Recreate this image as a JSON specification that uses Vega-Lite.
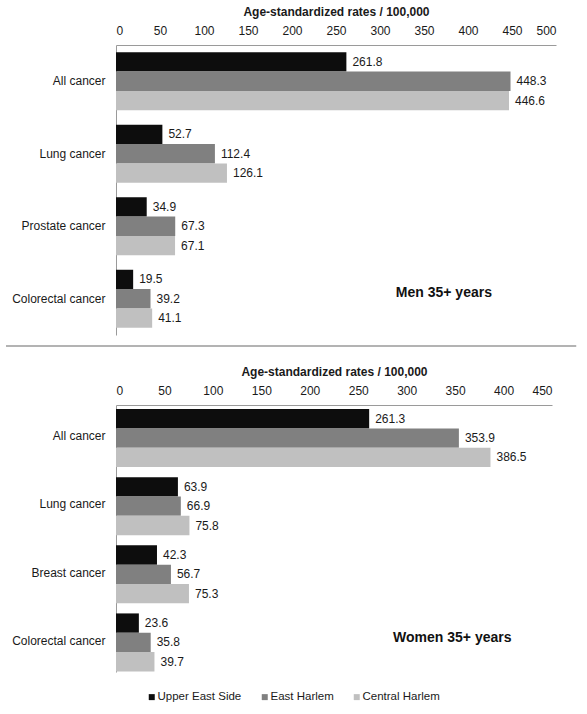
{
  "$schema": "https://vega.github.io/schema/vega-lite/v6.json",
  "background": "white",
  "padding": {"left": 5, "top": 5, "right": 5, "bottom": 5},
  "spacing": 10,
  "datasets": {
    "men": [
      {"cancer": "All cancer", "area": "Upper East Side", "rate": 261.8},
      {"cancer": "All cancer", "area": "East Harlem", "rate": 448.3},
      {"cancer": "All cancer", "area": "Central Harlem", "rate": 446.6},
      {"cancer": "Lung cancer", "area": "Upper East Side", "rate": 52.7},
      {"cancer": "Lung cancer", "area": "East Harlem", "rate": 112.4},
      {"cancer": "Lung cancer", "area": "Central Harlem", "rate": 126.1},
      {"cancer": "Prostate cancer", "area": "Upper East Side", "rate": 34.9},
      {"cancer": "Prostate cancer", "area": "East Harlem", "rate": 67.3},
      {"cancer": "Prostate cancer", "area": "Central Harlem", "rate": 67.1},
      {"cancer": "Colorectal cancer", "area": "Upper East Side", "rate": 19.5},
      {"cancer": "Colorectal cancer", "area": "East Harlem", "rate": 39.2},
      {"cancer": "Colorectal cancer", "area": "Central Harlem", "rate": 41.1}
    ],
    "women": [
      {"cancer": "All cancer", "area": "Upper East Side", "rate": 261.3},
      {"cancer": "All cancer", "area": "East Harlem", "rate": 353.9},
      {"cancer": "All cancer", "area": "Central Harlem", "rate": 386.5},
      {"cancer": "Lung cancer", "area": "Upper East Side", "rate": 63.9},
      {"cancer": "Lung cancer", "area": "East Harlem", "rate": 66.9},
      {"cancer": "Lung cancer", "area": "Central Harlem", "rate": 75.8},
      {"cancer": "Breast cancer", "area": "Upper East Side", "rate": 42.3},
      {"cancer": "Breast cancer", "area": "East Harlem", "rate": 56.7},
      {"cancer": "Breast cancer", "area": "Central Harlem", "rate": 75.3},
      {"cancer": "Colorectal cancer", "area": "Upper East Side", "rate": 23.6},
      {"cancer": "Colorectal cancer", "area": "East Harlem", "rate": 35.8},
      {"cancer": "Colorectal cancer", "area": "Central Harlem", "rate": 39.7}
    ],
    "panels": [
      {"label": "Men 35+ years", "cancer": "Colorectal cancer"}
    ],
    "panelsW": [
      {"label": "Women 35+ years", "cancer": "Colorectal cancer"}
    ],
    "sep": [{"from": -125, "to": 523, "level": 1}]
  },
  "config": {
    "font": "Liberation Sans",
    "view": {"stroke": null},
    "axis": {
      "labelFont": "Liberation Sans",
      "titleFont": "Liberation Sans",
      "labelFontSize": 12,
      "labelColor": "#1a1a1a",
      "titleColor": "#1a1a1a",
      "grid": false,
      "ticks": false,
      "domainColor": "#9a9a9a"
    },
    "legend": {
      "labelFont": "Liberation Sans",
      "labelFontSize": 11.5,
      "labelColor": "#1a1a1a"
    }
  },
  "vconcat": [
    {
      "width": 440,
      "height": 290,
      "data": {"name": "men"},
      "encoding": {
        "y": {
          "field": "cancer", "type": "nominal",
          "scale": {"domain": ["All cancer", "Lung cancer", "Prostate cancer", "Colorectal cancer"], "paddingInner": 0.2, "paddingOuter": 0.1},
          "axis": {"title": null, "labelPadding": 11}
        }
      },
      "layer": [
        {
          "mark": {"type": "bar"},
          "encoding": {
            "yOffset": {
              "field": "area", "type": "nominal",
              "scale": {"domain": ["Upper East Side", "East Harlem", "Central Harlem"]}
            },
            "x": {
              "field": "rate", "type": "quantitative",
              "scale": {"domain": [0, 500]},
              "axis": {
                "orient": "top", "values": [0, 50, 100, 150, 200, 250, 300, 350, 400, 450, 500],
                "title": "Age-standardized  rates / 100,000",
                "titleFontSize": 12, "titleFontWeight": "bold",
                "labelPadding": 8, "titlePadding": 6
              }
            },
            "color": {
              "field": "area", "type": "nominal",
              "scale": {"domain": ["Upper East Side", "East Harlem", "Central Harlem"], "range": ["#0d0d0d", "#808080", "#c0c0c0"]},
              "legend": {
                "orient": "none", "direction": "horizontal", "title": null,
                "legendX": 30, "legendY": 646,
                "symbolType": "square", "symbolSize": 36, "symbolStrokeWidth": 0,
                "columnPadding": 17, "labelOffset": 0
              }
            }
          }
        },
        {
          "mark": {"type": "text", "align": "left", "dx": 6, "fontSize": 12, "color": "#1a1a1a"},
          "encoding": {
            "yOffset": {"field": "area", "type": "nominal", "scale": {"domain": ["Upper East Side", "East Harlem", "Central Harlem"]}},
            "x": {"field": "rate", "type": "quantitative"},
            "text": {"field": "rate", "type": "quantitative", "format": ".1f"}
          }
        },
        {
          "data": {"name": "panels"},
          "mark": {"type": "text", "align": "left", "fontSize": 14, "fontWeight": "bold", "color": "#111", "dy": -6},
          "encoding": {
            "x": {"datum": 318, "type": "quantitative"},
            "text": {"field": "label"}
          }
        }
      ]
    },
    {
      "width": 440,
      "height": 9,
      "data": {"name": "sep"},
      "mark": {"type": "rule", "color": "#9a9a9a", "strokeWidth": 1.5},
      "encoding": {
        "x": {"field": "from", "type": "quantitative", "scale": {"domain": [0, 500]}, "axis": null},
        "x2": {"field": "to"},
        "y": {"field": "level", "type": "quantitative", "scale": {"domain": [0, 1]}, "axis": null}
      }
    },
    {
      "width": 436,
      "height": 267,
      "data": {"name": "women"},
      "encoding": {
        "y": {
          "field": "cancer", "type": "nominal",
          "scale": {"domain": ["All cancer", "Lung cancer", "Breast cancer", "Colorectal cancer"], "paddingInner": 0.2, "paddingOuter": 0.06},
          "axis": {"title": null, "labelPadding": 11}
        }
      },
      "layer": [
        {
          "mark": {"type": "bar"},
          "encoding": {
            "yOffset": {
              "field": "area", "type": "nominal",
              "scale": {"domain": ["Upper East Side", "East Harlem", "Central Harlem"]}
            },
            "x": {
              "field": "rate", "type": "quantitative",
              "scale": {"domain": [0, 450]},
              "axis": {
                "orient": "top", "values": [0, 50, 100, 150, 200, 250, 300, 350, 400, 450],
                "title": "Age-standardized  rates / 100,000",
                "titleFontSize": 12, "titleFontWeight": "bold",
                "labelPadding": 8, "titlePadding": 6
              }
            },
            "color": {
              "field": "area", "type": "nominal"
            }
          }
        },
        {
          "mark": {"type": "text", "align": "left", "dx": 6, "fontSize": 12, "color": "#1a1a1a"},
          "encoding": {
            "yOffset": {"field": "area", "type": "nominal", "scale": {"domain": ["Upper East Side", "East Harlem", "Central Harlem"]}},
            "x": {"field": "rate", "type": "quantitative"},
            "text": {"field": "rate", "type": "quantitative", "format": ".1f"}
          }
        },
        {
          "data": {"name": "panelsW"},
          "mark": {"type": "text", "align": "left", "fontSize": 14, "fontWeight": "bold", "color": "#111", "dy": -3},
          "encoding": {
            "x": {"datum": 286, "type": "quantitative"},
            "text": {"field": "label"}
          }
        }
      ]
    }
  ]
}
